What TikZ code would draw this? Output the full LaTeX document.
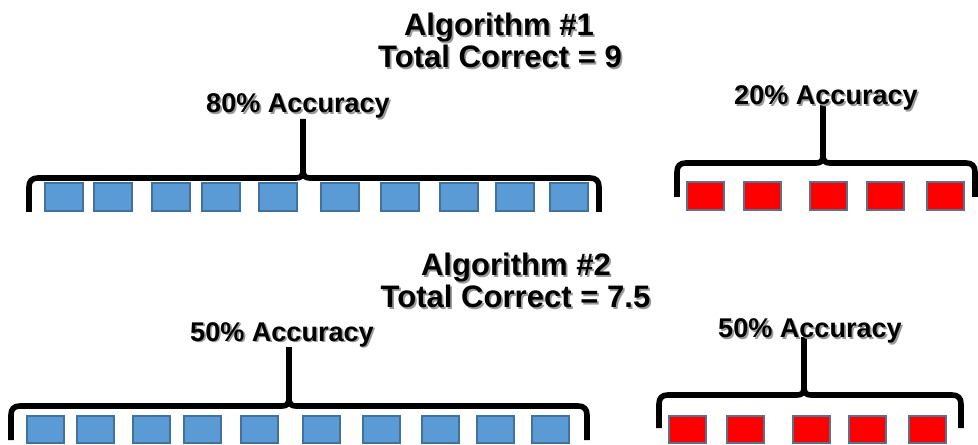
\documentclass[tikz,border=0pt]{standalone}
\usepackage{fontspec}
\setmainfont{Liberation Sans}
\definecolor{blueF}{HTML}{5B9BD5}
\definecolor{blueD}{HTML}{41719C}
\definecolor{redF}{HTML}{FF0000}
\definecolor{redD}{HTML}{5B6F8F}
\newcommand\shd[1]{\makebox[0pt][l]{\kern1.3pt\raisebox{-1.3pt}{\color{black!40}#1}}#1}
\newcommand\mybrace[6]{%
  \draw[brace] (#1,#5) -- (#1,#4+9) .. controls (#1,#4+3) and (#1+3,#4) .. (#1+9,#4)
     -- (#3-7,#4) .. controls (#3-2,#4) and (#3,#4-2) .. (#3,#4-8) -- (#3,#6);
  \draw[brace] (#2,#5) -- (#2,#4+9) .. controls (#2,#4+3) and (#2-3,#4) .. (#2-9,#4)
     -- (#3+7,#4) .. controls (#3+2,#4) and (#3,#4-2) .. (#3,#4-8);
}
\begin{document}
\begin{tikzpicture}[x=0.75pt,y=-0.75pt,
  title/.style={font=\fontsize{23.3}{28}\selectfont\bfseries, anchor=base, inner sep=0pt},
  acc/.style={font=\fontsize{20.3}{24}\selectfont\bfseries, anchor=base, inner sep=0pt},
  brace/.style={draw=black, line width=4.2pt, line join=round},
  bsq/.style={fill=blueF, draw=blueD, line width=0.8pt},
  rsq/.style={fill=redF, draw=redD, line width=0.8pt}]
\useasboundingbox (0,0) rectangle (978,445);

% squares
\foreach \x in {45,94,152,202,259,321,381,440,496,550}
  \draw[bsq] (\x,183) rectangle ++(38,28);
\foreach \x in {687,744,810,867,927}
  \draw[rsq] (\x,182) rectangle ++(37,28);
\foreach \x in {27,77,133,184,241,303,363,422,477,532}
  \draw[bsq] (\x,416) rectangle ++(37,27);
\foreach \x in {669,727,793,849,909}
  \draw[rsq] (\x,416) rectangle ++(37,27);

% braces
\mybrace{29}{599}{303}{178}{212}{119}
\mybrace{677}{975}{823}{163}{197}{105}
\mybrace{11}{587}{289}{406}{440}{347}
\mybrace{659}{961}{804}{395}{428}{337}

% texts
\node[title] (t1a) at (499,36) {\shd{Algorithm \#1}};
\node[title] (t1b) at (500,68) {\shd{Total Correct = 9}};
\node[acc] (a1) at (298,113) {\shd{80\% Accuracy}};
\node[acc] (a2) at (826,105) {\shd{20\% Accuracy}};
\node[title] (t2a) at (516,276) {\shd{Algorithm \#2}};
\node[title] (t2b) at (515.5,308) {\shd{Total Correct = 7.5}};
\node[acc] (a3) at (282,341) {\shd{50\% Accuracy}};
\node[acc] (a4) at (810,338) {\shd{50\% Accuracy}};
\end{tikzpicture}
\end{document}
